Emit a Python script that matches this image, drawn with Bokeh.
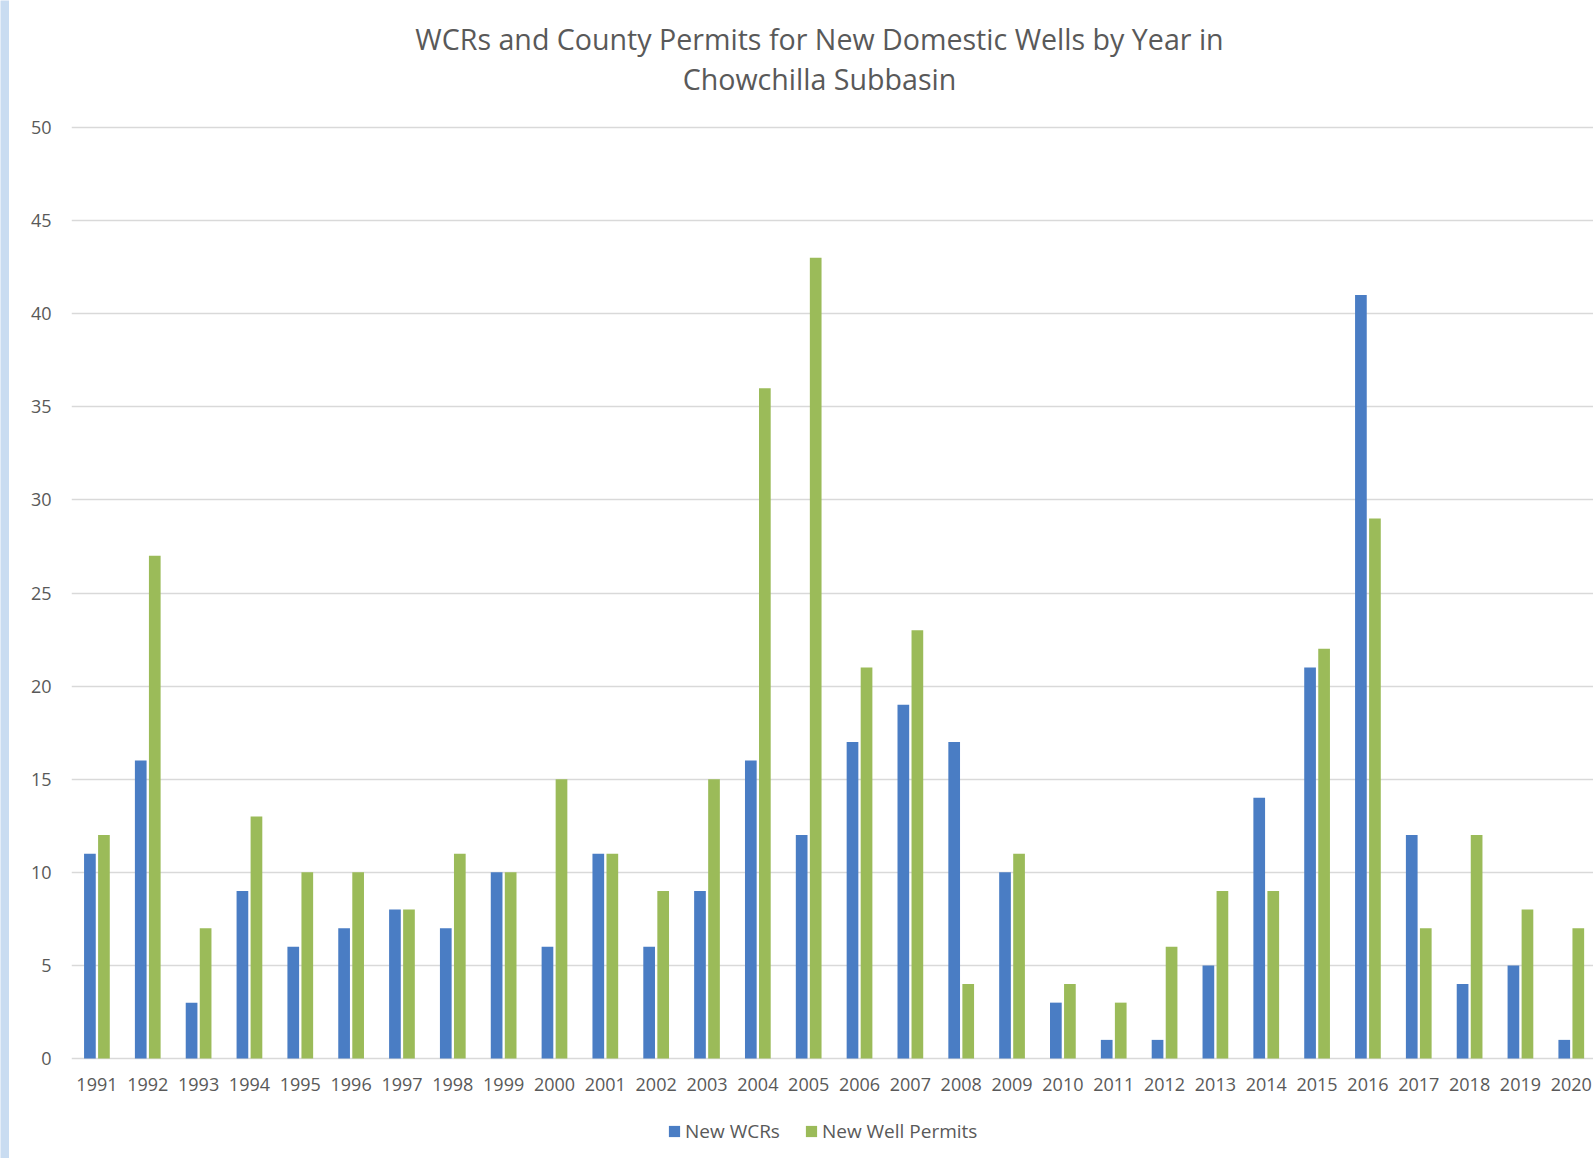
from bokeh.plotting import figure
from bokeh.models import Range1d, FixedTicker, Legend, LegendItem, ColumnDataSource
from bokeh.core.properties import value
from bokeh.transform import dodge
from bokeh.layouts import row
from bokeh.embed import file_html
from bokeh.resources import INLINE

years = list(range(1991, 2021))
year_labels = [str(y) for y in years]
new_wcrs = [11, 16, 3, 9, 6, 7, 8, 7, 10, 6, 11, 6, 9, 16, 12, 17, 19, 17, 10, 3, 1, 1, 5, 14, 21, 41, 12, 4, 5, 1]
new_permits = [12, 27, 7, 13, 10, 10, 8, 11, 10, 15, 11, 9, 15, 36, 43, 21, 23, 4, 11, 4, 3, 6, 9, 9, 22, 29, 7, 12, 8, 7]
series_names = ["New WCRs", "New Well Permits"]
title_lines = ["WCRs and County Permits for New Domestic Wells by Year in", "Chowchilla Subbasin"]
y_ticks = [0, 5, 10, 15, 20, 25, 30, 35, 40, 45, 50]

BLUE = "#4a7dc4"
GREEN = "#9bbb59"
TEXT = "#595959"
GRID = "#d9d9d9"
FONT = "Open Sans"

# layout geometry (pixels)
W, H = 1584, 1158
LEFT = 62                 # frame left inside figure
FW = W - LEFT
CAT_PX = 50.84            # pixels per year
ZERO_PX = 1058            # y pixel of value 0 (from top)
TOP_PX = 127              # y pixel of value 50
PX_PER_UNIT = (ZERO_PX - TOP_PX) / 50.0

def y_at(py):
    return (ZERO_PX - py) / PX_PER_UNIT

def x_at(px_page):
    return 1990.5 + (px_page - 9 - LEFT) / CAT_PX

src = ColumnDataSource(dict(year=years, wcrs=new_wcrs, permits=new_permits,
                            label=year_labels))

p = figure(width=W, height=H, output_backend="svg", toolbar_location=None,
           title=None, x_axis_location=None,
           x_range=Range1d(1990.5, 1990.5 + FW / CAT_PX),
           y_range=Range1d(y_at(H), y_at(0)),
           min_border_left=LEFT, min_border_right=0, min_border_top=0, min_border_bottom=0)

p.outline_line_color = None
p.background_fill_color = "white"
p.border_fill_color = "white"

p.xgrid.grid_line_color = None
p.ygrid.grid_line_color = GRID
p.ygrid.grid_line_width = 1.5
p.ygrid.ticker = FixedTicker(ticks=y_ticks)

r1 = p.vbar(x=dodge("year", -0.138, range=p.x_range), top="wcrs", width=0.23, source=src,
            color=BLUE, line_color=None)
r2 = p.vbar(x=dodge("year", 0.138, range=p.x_range), top="permits", width=0.23, source=src,
            color=GREEN, line_color=None)

# category labels under the baseline
p.text(x="year", y=y_at(1084), text="label", source=src,
       text_align="center", text_baseline="middle",
       text_font=value(FONT), text_font_size="18px", text_color=TEXT)

# two-line centred title
p.text(x=[x_at(819), x_at(819)], y=[y_at(38), y_at(78)], text=title_lines,
       text_align="center", text_baseline="middle",
       text_font=value(FONT), text_font_size="28.6px", text_color=TEXT)

p.yaxis.ticker = FixedTicker(ticks=y_ticks)
p.yaxis.axis_line_color = None
p.yaxis.major_tick_line_color = None
p.yaxis.minor_tick_line_color = None
p.yaxis.major_label_standoff = 14
p.yaxis.major_label_text_font = FONT
p.yaxis.major_label_text_font_size = "18px"
p.yaxis.major_label_text_color = TEXT

legend = Legend(items=[LegendItem(label=series_names[0], renderers=[r1]),
                       LegendItem(label=series_names[1], renderers=[r2])],
                orientation="horizontal", location=(596, 14),
                border_line_color=None, background_fill_alpha=0,
                label_text_font=FONT, label_text_font_size="19px", label_text_color=TEXT,
                glyph_width=14, glyph_height=14, spacing=24, label_standoff=4,
                margin=0, padding=0)
p.add_layout(legend, "center")

strip = figure(width=9, height=H, output_backend="svg", toolbar_location=None,
               min_border=0, x_range=Range1d(0, 1), y_range=Range1d(0, 1))
strip.background_fill_color = "#c9dcf1"
strip.border_fill_color = "#c9dcf1"
strip.outline_line_color = None
strip.axis.visible = False
strip.grid.visible = False

layout = row(strip, p, spacing=0)
open("out.html", "w").write(file_html(layout, INLINE))
